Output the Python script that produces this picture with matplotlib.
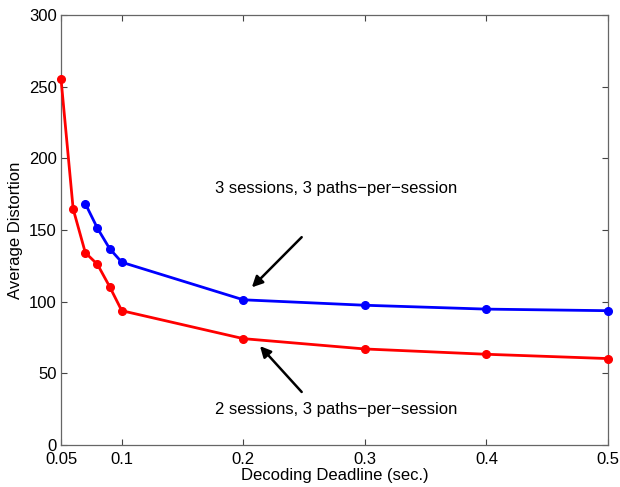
import matplotlib
matplotlib.use("Agg")
import matplotlib.pyplot as plt

plt.rcParams['font.family'] = ['Liberation Sans', 'DejaVu Sans']

# Decoding deadline (sec.) and average distortion per configuration
deadline_2s = [0.05, 0.06, 0.07, 0.08, 0.09, 0.1, 0.2, 0.3, 0.4, 0.5]
distortion_2s = [255.5, 164.7, 134.2, 126.0, 110.5, 93.7, 74.2, 67.0, 63.3, 60.3]

deadline_3s = [0.07, 0.08, 0.09, 0.1, 0.2, 0.3, 0.4, 0.5]
distortion_3s = [168.4, 151.2, 137.0, 127.5, 101.3, 97.5, 94.8, 93.7]

x_ticks = [0.05, 0.1, 0.2, 0.3, 0.4, 0.5]
x_tick_labels = ['0.05', '0.1', '0.2', '0.3', '0.4', '0.5']
y_ticks = [0, 50, 100, 150, 200, 250, 300]

label_3s = '3 sessions, 3 paths\u2212per\u2212session'
label_2s = '2 sessions, 3 paths\u2212per\u2212session'

fig = plt.figure(figsize=(6.2, 4.87), dpi=100)
ax = fig.add_axes([61 / 620, 1 - 445 / 487, 547 / 620, 430 / 487])

ax.plot(deadline_3s, distortion_3s, color='#0000ff', lw=2.0, marker='o',
        markersize=5.5, clip_on=False, zorder=3)
ax.plot(deadline_2s, distortion_2s, color='#ff0000', lw=2.0, marker='o',
        markersize=5.5, clip_on=False, zorder=3)

ax.set_xlim(0.05, 0.5)
ax.set_ylim(0, 300)
ax.set_xticks(x_ticks)
ax.set_xticklabels(x_tick_labels)
ax.set_yticks(y_ticks)
ax.tick_params(direction='in', top=True, right=True, labelsize=12,
               length=4, width=0.8, color='#444444')
ax.tick_params(axis='x', pad=5)
ax.tick_params(axis='y', pad=3)
for s in ax.spines.values():
    s.set_color('#666666')
    s.set_linewidth(0.9)

ax.set_xlabel('Decoding Deadline (sec.)', fontsize=12, labelpad=1)
ax.set_ylabel('Average Distortion', fontsize=12, labelpad=4)

arrow = dict(arrowstyle='-|>', color='black', lw=1.8, mutation_scale=16,
             shrinkA=0, shrinkB=0)
ax.annotate('', xy=(0.207, 110), xytext=(0.248, 145), arrowprops=arrow)
ax.text(0.2767, 179, label_3s, ha='center', va='center', fontsize=12)
ax.annotate('', xy=(0.2137, 69), xytext=(0.248, 37), arrowprops=arrow)
ax.text(0.2767, 24.5, label_2s, ha='center', va='center', fontsize=12)

fig.savefig('out.png', dpi=100)
